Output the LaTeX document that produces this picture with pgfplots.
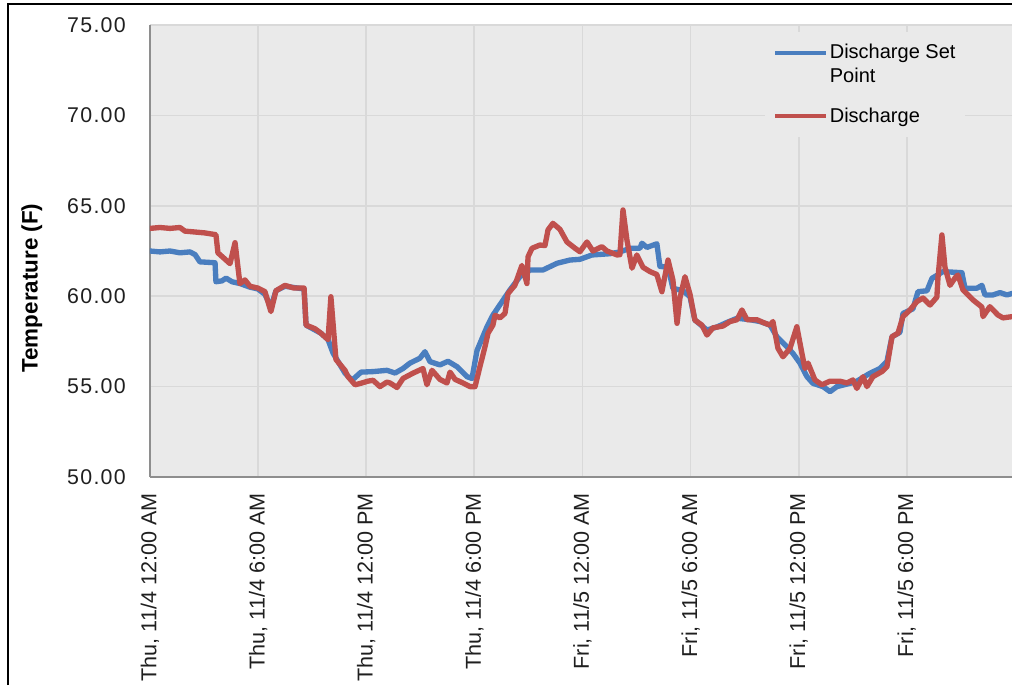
\documentclass[border=0pt]{standalone}
\usepackage{pgfplots}
\pgfplotsset{compat=1.18}
\usepackage{pgfplotstable}
\usepackage{fontspec}
\setmainfont{Liberation Sans}
\newfontfamily\tickfont[LetterSpace=6]{Liberation Sans}
\definecolor{bgc}{HTML}{EAEAEA}
\definecolor{gridc}{HTML}{D9D9D9}
\definecolor{axc}{HTML}{8E8E8E}
\definecolor{spblue}{HTML}{4A7EBF}
\definecolor{dred}{HTML}{C0504D}
\pgfplotsset{
  firstleg/.style={legend image code/.code={\draw[##1, line width=3.2pt, line cap=butt] (0pt,8.6pt) -- (38pt,8.6pt);}},
  otherleg/.style={legend image code/.code={\draw[##1, line width=3.2pt, line cap=butt] (0pt,0pt) -- (38pt,0pt);}},
}

\pgfplotstableread{
h T
0.00 62.50
0.55 62.45
1.11 62.50
1.66 62.40
2.22 62.45
2.50 62.30
2.77 61.90
3.61 61.85
3.66 60.80
4.00 60.85
4.22 61.00
4.55 60.80
4.99 60.70
5.55 60.50
5.99 60.40
6.38 60.10
6.71 59.40
6.99 60.30
7.49 60.55
8.55 60.40
8.66 58.40
9.49 57.95
9.88 57.60
10.16 56.85
10.82 55.75
11.21 55.35
11.71 55.80
12.38 55.83
13.15 55.90
13.60 55.75
14.04 56.00
14.43 56.30
14.98 56.57
15.26 56.93
15.54 56.38
16.09 56.20
16.54 56.40
17.04 56.10
17.59 55.55
17.87 55.45
18.15 57.00
18.70 58.30
19.03 58.95
19.98 60.35
20.53 61.08
21.09 61.45
21.81 61.45
22.59 61.82
23.31 62.00
23.86 62.04
24.53 62.28
25.53 62.35
26.08 62.45
26.64 62.65
27.19 62.65
27.30 62.93
27.58 62.70
28.13 62.90
28.30 61.65
28.75 61.60
29.02 60.44
29.58 60.30
29.97 59.97
30.24 58.68
30.91 58.13
31.47 58.30
32.02 58.55
32.58 58.78
33.30 58.70
33.85 58.60
34.41 58.40
34.79 57.76
35.35 57.20
35.68 56.84
36.07 56.30
36.46 55.55
36.79 55.18
37.35 55.00
37.74 54.72
38.12 55.00
38.85 55.18
39.23 55.30
39.96 55.74
40.51 56.00
40.90 56.40
41.18 57.76
41.62 58.00
41.79 59.05
42.34 59.30
42.62 60.25
43.12 60.30
43.40 60.99
44.01 61.36
45.06 61.30
45.23 60.44
45.89 60.44
46.17 60.60
46.34 60.07
46.78 60.07
47.17 60.20
47.56 60.07
47.84 60.15
}\setpoint

\pgfplotstableread{
h T
0.00 63.75
0.55 63.80
1.11 63.75
1.66 63.80
1.94 63.60
2.50 63.55
3.05 63.50
3.66 63.40
3.77 62.40
4.44 61.80
4.72 62.96
4.99 60.70
5.27 60.90
5.55 60.55
5.99 60.45
6.38 60.25
6.71 59.15
6.99 60.30
7.49 60.60
7.99 60.45
8.55 60.45
8.66 58.40
9.16 58.20
9.49 57.95
9.88 57.60
10.04 59.97
10.32 56.50
10.82 55.90
10.99 55.55
11.38 55.10
11.76 55.20
12.09 55.30
12.38 55.35
12.76 55.00
13.15 55.25
13.32 55.20
13.71 54.95
14.04 55.45
14.59 55.74
15.15 56.00
15.37 55.10
15.65 55.90
16.09 55.40
16.48 55.20
16.65 55.80
16.93 55.40
17.37 55.20
17.76 55.00
18.04 55.00
18.31 56.10
18.59 57.20
18.76 57.95
19.03 58.40
19.15 58.95
19.42 58.80
19.70 59.05
19.87 60.15
20.25 60.60
20.64 61.70
20.92 60.70
20.98 62.18
21.20 62.65
21.64 62.83
21.92 62.80
22.09 63.67
22.36 64.03
22.75 63.70
23.14 63.00
23.59 62.65
23.86 62.46
24.25 63.00
24.58 62.50
25.08 62.74
25.36 62.50
25.92 62.28
26.08 62.30
26.25 64.77
26.47 63.10
26.75 61.55
27.02 62.28
27.36 61.60
27.75 61.36
28.13 61.20
28.41 60.25
28.75 62.00
29.02 60.90
29.25 58.50
29.41 59.90
29.69 61.08
29.97 60.10
30.24 58.68
30.63 58.40
30.91 57.85
31.24 58.25
31.80 58.35
32.19 58.60
32.58 58.70
32.85 59.24
33.13 58.70
33.68 58.70
34.02 58.55
34.41 58.40
34.57 58.60
34.85 57.12
35.13 56.65
35.52 57.12
35.90 58.31
36.18 56.84
36.35 56.00
36.52 56.30
36.90 55.37
37.29 55.10
37.74 55.30
38.29 55.30
38.68 55.20
39.01 55.37
39.23 54.90
39.57 55.55
39.79 55.00
40.12 55.55
40.62 55.83
40.90 56.10
41.18 57.76
41.51 57.95
41.79 58.87
42.18 59.24
42.56 59.70
42.90 59.90
43.29 59.51
43.67 59.95
43.73 61.00
43.95 63.39
44.12 61.60
44.40 60.60
44.67 61.00
44.84 61.17
45.12 60.35
45.67 59.80
46.17 59.40
46.23 58.87
46.61 59.42
47.06 58.96
47.34 58.80
47.84 58.87
}\discharge

\begin{document}
\begin{tikzpicture}
\useasboundingbox (0,0) rectangle (759pt,513.75pt);
\begin{axis}[
  at={(112.5pt,156pt)}, anchor=south west,
  scale only axis, width=646.5pt, height=339pt,
  xmin=0, xmax=47.84, ymin=50, ymax=75,
  axis lines=left,
  axis line style={-, draw=axc, line width=1.3pt},
  axis background/.style={fill=bgc},
  grid=major,
  major grid style={draw=gridc, line width=1.3pt},
  major tick length=0pt,
  xtick={0,6,12,18,24,30,36,42},
  xticklabels={{Thu, 11/4 12:00 AM},{Thu, 11/4 6:00 AM},{Thu, 11/4 12:00 PM},{Thu, 11/4 6:00 PM},{Fri, 11/5 12:00 AM},{Fri, 11/5 6:00 AM},{Fri, 11/5 12:00 PM},{Fri, 11/5 6:00 PM}},
  ytick={50,55,60,65,70,75},
  yticklabels={50.00,55.00,60.00,65.00,70.00,75.00},
  xticklabel style={font=\fontsize{16.2}{19}\selectfont, text=black!88, rotate=90, anchor=east, inner xsep=12pt, inner ysep=0pt},
  yticklabel style={font=\tickfont\fontsize{16}{19}\selectfont, text=black!88, anchor=east, inner xsep=18pt, inner ysep=0pt},
  ylabel={Temperature (F)},
  ylabel style={at={(axis description cs:-0.137,0.418)}, anchor=center, font=\bfseries\fontsize{16.8}{19}\selectfont},
  legend style={at={(rel axis cs:0.7135,0.984)}, anchor=north west, fill=bgc, draw=none,
    font=\fontsize{15}{17.3}\selectfont, inner xsep=6pt, inner ysep=7pt, row sep=14pt,
    cells={anchor=west, align=left}, nodes={inner xsep=1.2pt}},
  otherleg,
]
\addplot[spblue, line width=4pt, line join=round, line cap=round, firstleg] table[x=h,y=T] {\setpoint};
\addlegendentry{Discharge Set\\Point}
\addplot[dred, line width=4pt, line join=round, line cap=round] table[x=h,y=T] {\discharge};
\addlegendentry{Discharge}
\end{axis}
\draw[black, line width=1.5pt] (6pt,0pt) -- (6pt,510.75pt) -- (759pt,510.75pt);
\end{tikzpicture}
\end{document}
